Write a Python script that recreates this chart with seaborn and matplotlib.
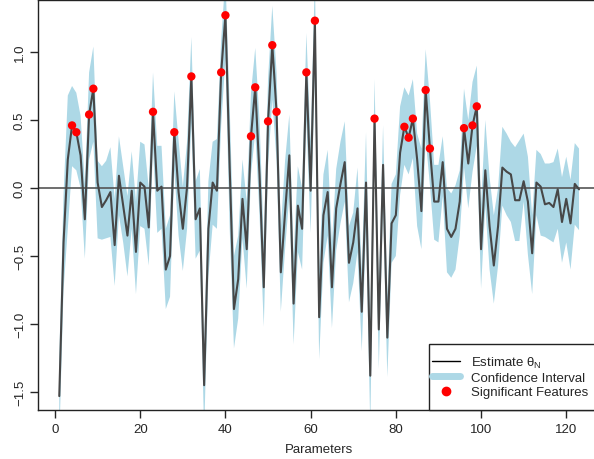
import numpy as np
import pandas as pd
import seaborn as sns
import matplotlib.pyplot as plt
from matplotlib.lines import Line2D
from matplotlib.patches import Rectangle

# estimates, parameter 1..123
estimate = [-1.53, -0.40, 0.21, 0.46, 0.41, 0.24, -0.23, 0.54, 0.73, 0.04,
            -0.14, -0.09, -0.03, -0.42, 0.09, -0.13, -0.35, -0.02, -0.47, 0.04,
            0.01, -0.29, 0.56, -0.02, 0.01, -0.60, -0.50, 0.41, -0.03, -0.30,
            0.01, 0.82, -0.23, -0.15, -1.45, -0.30, 0.04, -0.02, 0.85, 1.27,
            0.15, -0.89, -0.67, -0.08, -0.45, 0.38, 0.74, 0.10, -0.73, 0.49,
            1.05, 0.56, -0.62, -0.18, 0.24, -0.85, -0.13, -0.30, 0.85, -0.02,
            1.23, -0.95, -0.20, -0.03, -0.73, -0.15, 0.03, 0.19, -0.55, -0.40,
            -0.15, -0.91, 0.04, -1.38, 0.51, -1.04, 0.17, -1.10, -0.26, -0.20,
            0.26, 0.45, 0.37, 0.51, 0.21, -0.17, 0.72, 0.29, -0.10, -0.10,
            0.19, -0.30, -0.36, -0.30, -0.10, 0.44, 0.18, 0.46, 0.60, -0.45,
            0.13, -0.28, -0.57, -0.28, 0.15, 0.12, 0.10, -0.09, -0.09, 0.05,
            -0.10, -0.48, 0.04, 0.01, -0.12, -0.11, -0.14, -0.01, -0.25, -0.08,
            -0.26, 0.03, -0.01]

upper = [-1.24, -0.05, 0.68, 0.75, 0.70, 0.53, 0.03, 0.85, 1.04, 0.20,
         0.16, 0.20, 0.30, -0.08, 0.38, 0.16, -0.06, 0.27, -0.10, 0.34,
         0.32, 0.00, 0.85, 0.31, 0.31, -0.30, -0.20, 0.71, 0.35, 0.01,
         0.34, 1.11, 0.05, 0.14, -1.18, 0.05, 0.34, 0.36, 1.09, 1.55,
         0.60, -0.50, -0.35, 0.21, -0.10, 0.70, 1.03, 0.50, -0.40, 0.80,
         1.34, 0.85, -0.30, 0.20, 0.54, -0.50, 0.16, 0.00, 1.14, 0.34,
         1.55, -0.60, 0.10, 0.28, -0.40, 0.14, 0.34, 0.49, -0.28, -0.18,
         0.15, -0.60, 0.41, -1.00, 0.80, -0.75, 0.46, -0.80, 0.03, 0.10,
         0.60, 0.74, 0.68, 0.80, 0.40, 0.29, 1.02, 0.65, 0.17, 0.17,
         0.38, 0.00, -0.04, 0.02, 0.13, 0.73, 0.50, 0.78, 0.90, -0.12,
         0.50, 0.08, -0.20, 0.00, 0.45, 0.40, 0.34, 0.30, 0.35, 0.40,
         0.23, -0.20, 0.28, 0.25, 0.18, 0.18, 0.19, 0.29, 0.08, 0.23,
         0.06, 0.33, 0.29]

lower = [-1.85, -0.75, -0.30, 0.16, 0.13, 0.00, -0.52, 0.21, 0.34, -0.37,
         -0.38, -0.37, -0.36, -0.72, -0.20, -0.40, -0.65, -0.30, -0.78, -0.28,
         -0.30, -0.57, 0.29, -0.33, -0.30, -0.89, -0.80, 0.13, -0.35, -0.61,
         -0.30, 0.48, -0.52, -0.46, -1.80, -0.65, -0.27, -0.30, 0.46, 0.95,
         -0.30, -1.18, -0.96, -0.37, -0.74, 0.10, 0.41, -0.20, -1.02, 0.16,
         0.65, 0.20, -0.91, -0.45, -0.06, -1.15, -0.47, -0.60, 0.50, -0.33,
         0.85, -1.26, -0.55, -0.35, -1.03, -0.46, -0.26, -0.10, -0.84, -0.70,
         -0.47, -1.20, -0.30, -1.75, 0.22, -1.33, -0.15, -1.39, -0.55, -0.50,
         -0.05, 0.17, 0.10, 0.22, -0.28, -0.45, 0.36, 0.02, -0.38, -0.40,
         -0.06, -0.62, -0.66, -0.60, -0.35, 0.15, -0.15, 0.12, 0.31, -0.74,
         -0.13, -0.60, -0.85, -0.57, -0.13, -0.20, -0.25, -0.39, -0.39, -0.10,
         -0.49, -0.78, -0.20, -0.35, -0.36, -0.38, -0.40, -0.30, -0.55, -0.40,
         -0.60, -0.27, -0.31]

significant = [4, 5, 8, 9, 23, 28, 32, 39, 40, 46, 47, 50, 51, 52, 59, 61,
               75, 82, 83, 84, 87, 88, 96, 98, 99]

x_ticks = [0, 20, 40, 60, 80, 100, 120]
y_ticks = [-1.5, -1.0, -0.5, 0.0, 0.5, 1.0]

df = pd.DataFrame({"param": np.arange(1, len(estimate) + 1),
                   "estimate": estimate, "lower": lower, "upper": upper})
sig = df[df["param"].isin(significant)]

sns.set_style("ticks")
plt.rcParams['font.family'] = ['Liberation Sans', 'DejaVu Sans']
plt.rcParams['axes.unicode_minus'] = True
plt.rcParams['mathtext.fontset'] = 'custom'
plt.rcParams['mathtext.rm'] = 'Liberation Sans'
plt.rcParams['mathtext.it'] = 'Liberation Sans:italic'

fig = plt.figure(figsize=(5.94, 4.6), dpi=100)
ax = fig.add_axes([0.0648, 0.1072, 0.945, 0.890])

ax.fill_between(df["param"], df["lower"], df["upper"], color="lightblue", lw=0)
ax.axhline(0, color="#555555", lw=1.2)
sns.lineplot(data=df, x="param", y="estimate", color="#474747", lw=1.5, ax=ax)
sns.scatterplot(data=sig, x="param", y="estimate", color="red", s=36,
                edgecolor="none", ax=ax, zorder=5)

ax.set_xlim(-3.88, 127.88)
ax.set_ylim(-1.63, 1.38)
ax.set_xticks(x_ticks)
ax.set_yticks(y_ticks)
ax.set_yticklabels([f"{v:.1f}".replace("-", "\u2212") for v in y_ticks],
                   rotation=90, va="center")
ax.tick_params(axis="both", labelsize=9.5, length=6, width=1, direction="out")
ax.tick_params(axis="x", pad=3.5)
ax.tick_params(axis="y", pad=3)
ax.set_xlabel("Parameters", fontsize=9.5, labelpad=6)
ax.set_ylabel("")
for s in ax.spines.values():
    s.set_visible(True)
    s.set_color("#222222")
    s.set_linewidth(1)

# legend box, R style (tight on the left, runs off the right edge)
box = Rectangle((0.6955, 0), 0.4, 0.1605, transform=ax.transAxes,
                facecolor="white", edgecolor="#222222", lw=1, zorder=6,
                clip_on=False)
ax.add_patch(box)

handles = [Line2D([], [], color="black", lw=1),
           Line2D([], [], color="lightblue", lw=5),
           Line2D([], [], marker="o", color="red", ls="none", markersize=6)]
labels = [r"Estimate $\mathregular{\theta_N}$", "Confidence Interval", "Significant Features"]
leg = ax.legend(handles, labels, loc="center left", bbox_to_anchor=(0.7008, 0.0811),
                borderaxespad=0, borderpad=0, fontsize=9.5, frameon=False,
                handlelength=2.1, handletextpad=0.85, labelspacing=0.15)
leg.set_zorder(7)

fig.savefig("out.png", dpi=100)
